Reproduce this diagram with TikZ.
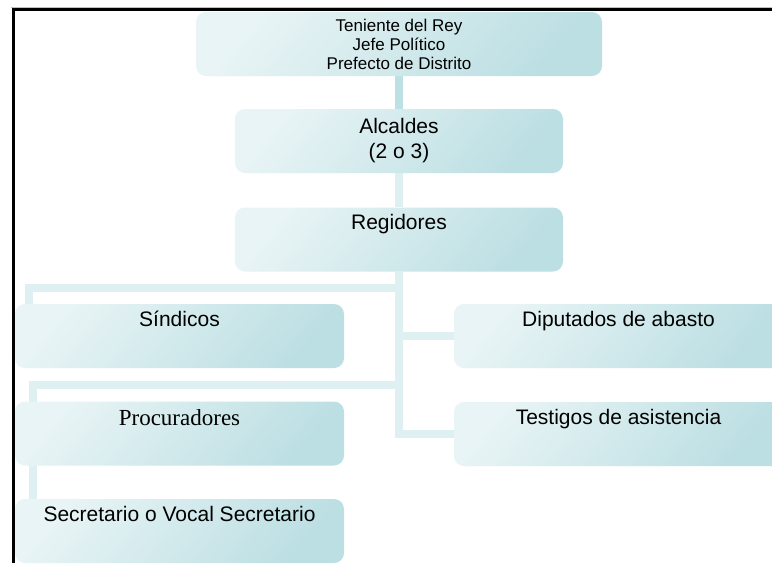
\documentclass[tikz,border=0pt]{standalone}
\usepackage{fontspec}
\setmainfont{Liberation Sans}
\newfontfamily\timesfont{Liberation Serif}
\usetikzlibrary{backgrounds}
\definecolor{boxlight}{HTML}{E8F4F5}
\definecolor{boxmid}{HTML}{DFF0F2}
\definecolor{boxdark}{HTML}{BCDFE3}
\definecolor{linklight}{HTML}{DFF0F2}
\definecolor{linkdark}{HTML}{BCE0E4}
\tikzset{
  unit/.style={rounded corners=10pt, inner sep=0pt, minimum width=329pt, minimum height=64pt,
    top color=boxlight, middle color=boxmid, bottom color=boxdark, shading angle=50,
    font=\fontsize{21}{25}\selectfont},
  oneline/.style={unit, text height=22pt, text depth=42pt},
  link/.style={line width=8pt, linklight}
}
\begin{document}
\begin{tikzpicture}[x=1pt,y=-1pt]
\useasboundingbox (0,0) rectangle (772,563);
% frame
\draw[gray!50, line width=1pt] (11,7) -- (772,7);
\draw[line width=3pt] (13.5,563) -- (13.5,9.5) -- (772,9.5);
% boxes
\node[unit, minimum width=406pt, align=center, font=\fontsize{17}{19}\selectfont] (ten) at (399,44)
  {Teniente del Rey\\Jefe Político\\Prefecto de Distrito};
\node[unit, minimum width=328pt, align=center] (alc) at (399,141) {Alcaldes\\(2 o 3)};
\node[oneline, minimum width=328pt] (reg) at (399,239.5) {Regidores};
\node[oneline] (sin) at (179.5,336) {Síndicos};
\node[oneline, text height=24pt, text depth=40pt, font=\timesfont\fontsize{23}{25}\selectfont] (pro) at (179.5,433.5) {Procuradores};
\node[oneline] (sec) at (179.5,531) {Secretario o Vocal Secretario};
\node[oneline] (dip) at (618.5,336) {Diputados de abasto};
\node[oneline] (tes) at (618.5,434) {Testigos de asistencia};
% connectors
\coordinate (b1) at (29,288);
\coordinate (b2) at (33,385);
\begin{pgfonlayer}{background}
\fill[white] (0,0) rectangle (772,563);
\draw[link, linkdark] (ten.south) -- (alc.north);
\draw[link] (alc.south) -- (reg.north);
\draw[link] (reg.south) |- (b1) -- (b1 |- sin.center);
\draw[link] (reg.south) |- (b2) -- (b2 |- sec.center);
\draw[link] (reg.south) |- (dip.west);
\draw[link] (reg.south) |- (tes.west);
\end{pgfonlayer}
\end{tikzpicture}
\end{document}
